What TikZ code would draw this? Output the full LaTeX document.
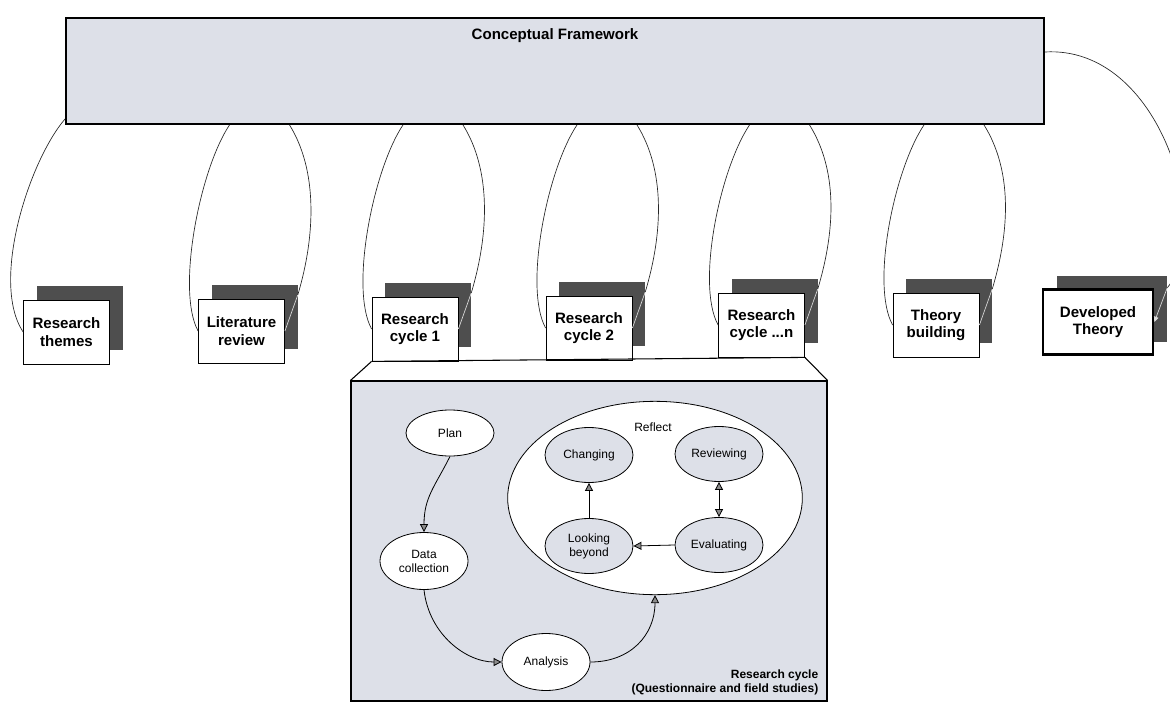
\documentclass[tikz,border=0pt]{standalone}
\usepackage{fontspec}
\setmainfont{Liberation Sans}
\usetikzlibrary{shapes.geometric, arrows.meta, calc}
\definecolor{framegray}{RGB}{221,224,232}
\definecolor{shadowgray}{RGB}{78,78,78}

\begin{document}
\begin{tikzpicture}[x=0.75pt, y=-0.75pt,
    cfbox/.style={draw, line width=1.4pt, fill=framegray, minimum width=733.5pt, minimum height=79.5pt, inner sep=0pt},
    card/.style={draw, line width=0.6pt, fill=white, minimum width=64.5pt, minimum height=48pt, inner sep=1pt, align=center, font=\fontsize{11.3}{13}\selectfont\bfseries},
    cardback/.style={fill=shadowgray, minimum width=64.5pt, minimum height=48pt, inner sep=0pt},
    link/.style={line width=0.5pt, black!85},
    passline/.style={line width=0.5pt, white!72!gray},
    stage/.style={ellipse, draw, line width=0.6pt, fill=white, inner sep=0pt, minimum width=66pt, minimum height=34.5pt, align=center, font=\fontsize{9}{10.5}\selectfont},
    substage/.style={stage, fill=framegray, minimum height=41.25pt},
    tip/.tip={Triangle[length=6pt, width=6pt, fill=black!45]},
    flow/.style={line width=0.6pt, -tip}]
    \useasboundingbox (0,0) rectangle (1170,702);

    % Draw nodes
    \node[cfbox] (cf) at (555,71) {};
    \node[font=\fontsize{11.3}{13}\selectfont\bfseries] (cftitle) at (555,36) {Conceptual Framework};

    \node[cardback] (themesb) at (79.5,318) {};
    \node[card] (themes) at (66.5,332) {Research\\themes};
    \node[cardback] (litb) at (254.5,317) {};
    \node[card] (lit) at (241.5,331) {Literature\\review};
    \node[cardback] (cyc1b) at (428,315) {};
    \node[card] (cyc1) at (415,329) {Research\\cycle 1};
    \node[cardback] (cyc2b) at (602,314) {};
    \node[card] (cyc2) at (589,328) {Research\\cycle 2};
    \node[cardback] (cycnb) at (774.5,311) {};
    \node[card] (cycn) at (761.5,325) {Research\\cycle ...n};
    \node[cardback] (theoryb) at (949,311) {};
    \node[card] (theory) at (936,325) {Theory\\building};
    \node[cardback, minimum width=82.5pt, minimum height=50pt] (devb) at (1112,309) {};
    \node[card, line width=2pt, minimum width=82.5pt, minimum height=48.75pt] (dev) at (1098,322) {Developed\\Theory};

    % Research cycle panel
    \node[draw, line width=0.8pt, fill=framegray, minimum width=357pt, minimum height=240pt, inner sep=0pt] (rc) at (589,541) {};
    \draw[line width=0.8pt] (cyc1.south west) -- (rc.north west);
    \draw[line width=0.8pt] (cycn.south east) -- (rc.north east);
    \draw[line width=0.8pt] (cyc1.south west) -- (cycn.south east);
    \node[anchor=south east, align=right, inner sep=0pt, font=\fontsize{9}{11}\selectfont\bfseries] (rclabel) at ($(rc.south east)+(-9,-6)$) {Research cycle\\(Questionnaire and field studies)};

    \node[stage] (plan) at (450,433) {Plan};
    \node[stage, minimum height=42.75pt] (data) at (424,561) {Data\\collection};
    \node[stage, minimum height=42.75pt] (ana) at (546,662) {Analysis};
    \node[ellipse, draw, line width=0.6pt, fill=white, minimum width=221pt, minimum height=145pt] (refl) at (655,498) {};
    \node[font=\fontsize{9}{10.5}\selectfont] (refltitle) at (653,427) {Reflect};
    \node[substage] (chg) at (589,455) {Changing};
    \node[substage] (rev) at (719,454) {Reviewing};
    \node[substage] (look) at (589,546) {Looking\\beyond};
    \node[substage] (eval) at (719,545) {Evaluating};

    % Draw connections
    \draw[link] ($(cf.south west)+(0,-6)$) .. controls +(-36,42) and +(-33,-50) .. (themes.west);

    \draw[link] ($(lit |- cf.south)+(-12,0)$) .. controls +(-30,45) and +(-22,-40) .. (lit.west);
    \draw[link] ($(lit |- cf.south)+(48,0)$) .. controls +(28,45) and +(18,-60) .. (litb.27);
    \draw[passline] (litb.27) -- (lit.east);

    \draw[link] ($(cyc1 |- cf.south)+(-12,0)$) .. controls +(-30,45) and +(-22,-40) .. (cyc1.west);
    \draw[link] ($(cyc1 |- cf.south)+(48,0)$) .. controls +(28,45) and +(18,-60) .. (cyc1b.27);
    \draw[passline] (cyc1b.27) -- (cyc1.east);

    \draw[link] ($(cyc2 |- cf.south)+(-12,0)$) .. controls +(-30,45) and +(-22,-40) .. (cyc2.west);
    \draw[link] ($(cyc2 |- cf.south)+(48,0)$) .. controls +(28,45) and +(18,-60) .. (cyc2b.27);
    \draw[passline] (cyc2b.27) -- (cyc2.east);

    \draw[link] ($(cycn |- cf.south)+(-12,0)$) .. controls +(-30,45) and +(-22,-40) .. (cycn.west);
    \draw[link] ($(cycn |- cf.south)+(48,0)$) .. controls +(28,45) and +(18,-60) .. (cycnb.27);
    \draw[passline] (cycnb.27) -- (cycn.east);

    \draw[link] ($(theory |- cf.south)+(-12,0)$) .. controls +(-30,45) and +(-22,-40) .. (theory.west);
    \draw[link] ($(theory |- cf.south)+(48,0)$) .. controls +(28,45) and +(18,-60) .. (theoryb.27);
    \draw[passline] (theoryb.27) -- (theory.east);

    \draw[link] ($(cf.east)+(0,-19)$) .. controls +(116,-7) and +(47,-57) .. (devb.21);
    \draw[passline, -{Triangle[length=4pt, width=3.5pt]}] (devb.21) -- (dev.east);

    % Cycle arrows
    \draw[flow] (plan.south) .. controls +(-15,30) and +(0,-35) .. (data.north);
    \draw[flow] (data.south) .. controls +(5,45) and +(-35,0) .. (ana.west);
    \draw[flow] (ana.east) .. controls +(40,0) and +(0,40) .. (refl.south);
    \draw[flow] (look.north) -- (chg.south);
    \draw[flow, tip-tip] (rev.south) -- (eval.north);
    \draw[flow] (eval.west) -- (look.east);
\end{tikzpicture}
\end{document}
